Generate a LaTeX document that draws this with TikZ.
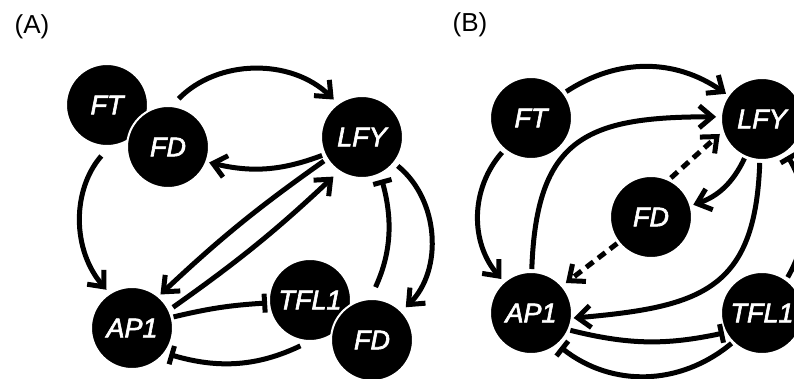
\documentclass[tikz,border=0pt]{standalone}
\usepackage{fontspec}
\setmainfont{Liberation Sans}
\newfontfamily\genefont{Liberation Sans}[FakeBold=2.2]
\usetikzlibrary{arrows.meta}
\begin{document}
\begin{tikzpicture}[x=1pt,y=1pt,
  gene/.style={circle, fill=black, draw=white, line width=2pt, minimum size=82pt, inner sep=0pt, text=white, font=\genefont\fontsize{27}{30}\selectfont\itshape},
  lbl/.style={font=\fontsize{26}{30}\selectfont, inner sep=0pt},
  act/.style={line width=5pt, -{Straight Barb[length=13pt,width=22pt]}},
  inh/.style={line width=5pt, -{Bar[width=19pt]}},
  dsh/.style={act, dash pattern=on 9pt off 6pt},
]
\useasboundingbox (0,0) rectangle (794,-378);
\clip (0,0) rectangle (794,-378);
\node[lbl] (labA) at (32,-27) {(A)};
\node[lbl] (labB) at (470,-25) {(B)};
% Panel A
\node[gene] (FTa) at (107,-105) {FT};
\node[gene] (FDa) at (168,-147) {FD};
\node[gene] (LFYa) at (362,-137) {LFY};
\node[gene] (APa) at (132,-328) {AP1};
\node[gene] (TFLa) at (310,-300) {TFL1};
\node[gene] (FDb) at (372,-340) {FD};
\draw[act, shorten <=9pt, shorten >=5pt] (FDa.84) to[bend left=45] (LFYa.126);
\draw[act, shorten <=2pt, shorten >=2pt] (LFYa.205) to[bend left=17] (FDa.339);
\draw[act, shorten <=12pt, shorten >=4pt] (FTa.273) to[bend right=41] (APa.123);
\draw[act, shorten <=3pt, shorten >=2pt] (LFYa.212) to[bend right=4] (APa.50);
\draw[act, shorten <=4pt, shorten >=7pt] (APa.26) to[bend right=4] (LFYa.236);
\draw[inh, shorten <=1pt, shorten >=1pt] (APa.15) to[bend left=5] (TFLa.184);
\draw[inh, shorten <=9pt, shorten >=4pt] (TFLa.268) to[bend left=21] (APa.323);
\draw[inh, shorten <=12pt, shorten >=5pt] (FDb.92) to[bend right=20] (LFYa.296);
\draw[act, shorten <=4pt, shorten >=5pt] (LFYa.321) to[bend left=48] (FDb.44);
% Panel B
\node[gene] (FTb) at (531,-118) {FT};
\node[gene] (LFYb) at (762,-119) {LFY};
\node[gene] (FDc) at (651,-217) {FD};
\node[gene] (APb) at (531,-313) {AP1};
\node[gene] (TFLb) at (762,-313) {TFL1};
\draw[act, shorten <=2pt, shorten >=2pt] (FTb.37) to[bend left=34] (LFYb.145);
\draw[act, shorten <=2pt, shorten >=4pt] (APb.89) to[out=88, in=180, looseness=1.4] (LFYb.177);
\draw[act, shorten <=3pt, shorten >=3pt] (FTb.230) to[bend right=41] (APb.131);
\draw[dsh, shorten <=2pt, shorten >=3pt] (FDc.64) -- (LFYb.198);
\draw[dsh, shorten <=1pt, shorten >=4pt] (FDc.218) -- (APb.41);
\draw[act, shorten <=1pt, shorten >=2pt] (LFYb.246) to[bend left=23] (FDc.16);
\draw[act, shorten <=2pt, shorten >=1pt] (LFYb.267) to[out=268, in=5, looseness=1.35] (APb.353);
\draw[inh, shorten <=1pt, shorten >=1pt] (APb.336) to[bend right=13] (TFLb.208);
\draw[inh, shorten <=1pt, shorten >=3pt] (TFLb.225) to[bend left=39] (APb.310);
\draw[inh, shorten <=2pt, shorten >=3pt] (TFLb.54) to[bend right=30] (LFYb.305);
\end{tikzpicture}
\end{document}
